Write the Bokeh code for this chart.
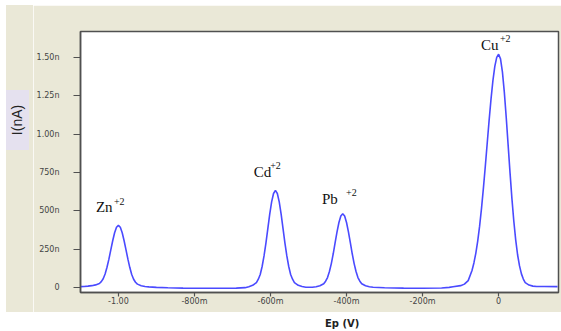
from bokeh.plotting import figure
from bokeh.models import ColumnDataSource, Range1d, FixedTicker, Div
from bokeh.layouts import column, row
from bokeh.core.properties import value
from bokeh.embed import file_html
from bokeh.resources import INLINE

# ---- data ----
ep_v = [
    -1.10, -1.09, -1.08, -1.07, -1.06, -1.05, -1.045, -1.04, -1.035, -1.03,
    -1.025, -1.02, -1.015, -1.01, -1.005, -1.00, -0.995, -0.99, -0.985, -0.98,
    -0.975, -0.97, -0.965, -0.96, -0.955, -0.95, -0.94, -0.93, -0.92, -0.90,
    -0.87, -0.83, -0.78, -0.73, -0.69, -0.667, -0.657, -0.647, -0.637, -0.632,
    -0.627, -0.622, -0.617, -0.612, -0.607, -0.602, -0.597, -0.592, -0.587, -0.582,
    -0.577, -0.572, -0.567, -0.562, -0.557, -0.552, -0.547, -0.542, -0.537, -0.527,
    -0.517, -0.507, -0.49, -0.48, -0.47, -0.46, -0.455, -0.45, -0.445, -0.44,
    -0.435, -0.43, -0.425, -0.42, -0.415, -0.41, -0.405, -0.40, -0.395, -0.39,
    -0.385, -0.38, -0.375, -0.37, -0.365, -0.36, -0.35, -0.34, -0.33, -0.30,
    -0.25, -0.20, -0.15, -0.13, -0.12, -0.10, -0.09, -0.08, -0.07, -0.065,
    -0.06, -0.055, -0.05, -0.045, -0.04, -0.035, -0.03, -0.025, -0.02, -0.015,
    -0.01, -0.005, 0.0, 0.005, 0.01, 0.015, 0.02, 0.025, 0.03, 0.035,
    0.04, 0.045, 0.05, 0.055, 0.06, 0.065, 0.07, 0.08, 0.09, 0.10,
    0.12, 0.155,
]
current_na = [
    6, 7, 9, 12, 17, 26, 38, 57, 88, 132,
    185, 245, 305, 357, 393, 405, 393, 357, 305, 245,
    185, 130, 85, 54, 34, 22, 12, 7, 4, 1,
    -2, -4, -5, -5, -4, -1, 5, 14, 32, 54,
    85, 137, 206, 290, 384, 478, 558, 613, 633, 613,
    558, 478, 384, 290, 206, 137, 85, 54, 32, 14,
    6, 2, 2, 5, 11, 24, 41, 65, 104, 156,
    220, 292, 363, 424, 466, 481, 466, 424, 363, 292,
    220, 156, 104, 65, 41, 24, 11, 5, 2, -2,
    -4, -5, -3, 1, 5, 12, 22, 45, 111, 160,
    223, 303, 400, 516, 648, 791, 941, 1090, 1229, 1349,
    1442, 1501, 1521, 1491, 1406, 1274, 1110, 930, 749, 580,
    432, 309, 212, 141, 89, 55, 32, 16, 9, 7,
    7, 6,
]

# peaks (position V, height nA) and their labels
peak_v = [-1.00, -0.587, -0.41, 0.0]
peak_na = [405, 633, 481, 1521]
ion_names = ["Zn", "Cd", "Pb", "Cu"]
ion_charges = ["+2", "+2", "+2", "+2"]

x_ticks = [-1.0, -0.8, -0.6, -0.4, -0.2, 0.0]
x_tick_labels = ["-1.00", "-800m", "-600m", "-400m", "-200m", "0"]
y_ticks = [0, 250, 500, 750, 1000, 1250, 1500]
y_tick_labels = ["0", "250n", "500n", "750n", "1.00n", "1.25n", "1.50n"]

# ---- styling ----
BEIGE = "#EAE8D7"
LAVENDER = "#E5E1EF"
LINE = "#4A4AFF"
FRAME = "#505050"

LEFT_W = 27  # width of the strip holding the y-axis title box

p = figure(width=555 - LEFT_W, height=307, output_backend="svg", toolbar_location=None,
           x_range=Range1d(-1.0997, 0.1575), y_range=Range1d(-32.6, 1669.6),
           min_border_left=73 - LEFT_W, min_border_right=3, min_border_top=26,
           min_border_bottom=20, margin=0)
p.border_fill_color = BEIGE
p.background_fill_color = "white"
p.outline_line_color = FRAME
p.outline_line_width = 1.5
p.grid.visible = False

p.line(ep_v, current_na, line_color=LINE, line_width=1.6)

# axes
for ax in (p.xaxis[0], p.yaxis[0]):
    ax.axis_line_color = FRAME
    ax.axis_line_width = 1.5
    ax.major_tick_line_color = FRAME
    ax.major_tick_line_width = 1.2
    ax.major_tick_in = 0
    ax.minor_tick_line_color = None
    ax.major_label_text_font = "DejaVu Sans"
    ax.major_label_text_font_size = "8px"
    ax.major_label_text_color = "#444444"

p.xaxis.ticker = FixedTicker(ticks=x_ticks)
p.xaxis.major_label_overrides = {t: l for t, l in zip(x_ticks, x_tick_labels)}
p.xaxis.major_tick_out = 4
p.xaxis.major_label_standoff = 0

p.yaxis.ticker = FixedTicker(ticks=y_ticks)
p.yaxis.major_label_overrides = {t: l for t, l in zip(y_ticks, y_tick_labels)}
p.yaxis.major_tick_out = 7
p.yaxis.major_label_standoff = 14

# ion labels anchored at the peak tops
name_dx = [-22.5, -21.6, -20.7, -17.7]
name_dy = [-18, -18, -15, -9]
sup_dx = [-4.5, -5.3, 3.3, 1.3]
sup_dy = [-24, -25, -21, -16]

name_src = ColumnDataSource(dict(x=peak_v, y=peak_na, t=ion_names, dx=name_dx, dy=name_dy))
sup_src = ColumnDataSource(dict(x=peak_v, y=peak_na, t=ion_charges, dx=sup_dx, dy=sup_dy))
p.text(x="x", y="y", text="t", x_offset="dx", y_offset="dy", source=name_src,
       text_font=value("Liberation Serif"), text_font_size="15px", text_color="#111111",
       text_align="left", text_baseline="alphabetic")
p.text(x="x", y="y", text="t", x_offset="dx", y_offset="dy", source=sup_src,
       text_font=value("Liberation Serif"), text_font_size="10px", text_color="#111111",
       text_align="left", text_baseline="alphabetic")

# y-axis title in a lavender box, in a beige strip left of the plot
ytitle = Div(
    text=('<div style="margin-top:85px;width:23px;height:60px;background:%s;'
          'display:flex;align-items:center;justify-content:center;">'
          '<span style="display:inline-block;transform:rotate(-90deg);white-space:nowrap;'
          'font-family:\'Liberation Sans\';font-size:14px;color:#222222;">I(nA)</span></div>'
          % LAVENDER),
    width=LEFT_W, height=307, margin=0,
    styles={"background": BEIGE},
)

xlab = Div(text="Ep (V)", width=555, height=19, margin=0,
           styles={"font-family": "DejaVu Sans", "font-weight": "bold", "font-size": "10px",
                   "padding-left": "319px", "padding-top": "6px", "line-height": "12px",
                   "color": "#222222", "background": "white"})

layout = column(row(ytitle, p, spacing=0, margin=0), xlab, spacing=0, margin=(5, 0, 0, 6),
                styles={"background": "white"})

open("out.html", "w").write(file_html(layout, INLINE))
